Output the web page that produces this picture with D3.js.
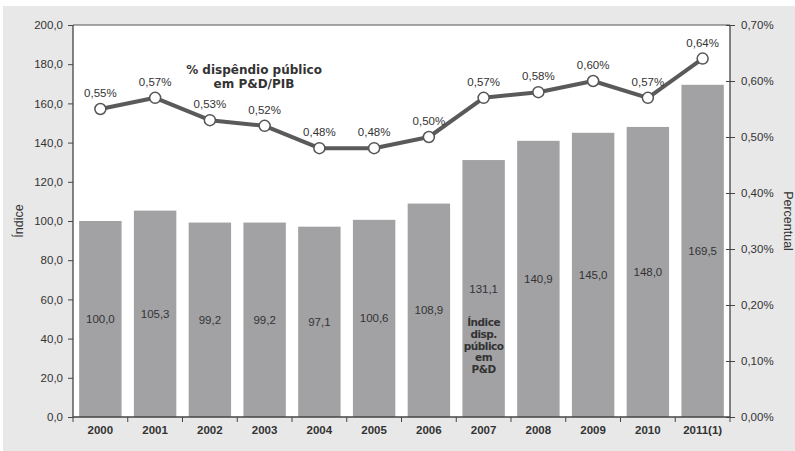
<!DOCTYPE html>
<html>
<head>
<meta charset="utf-8">
<script src="https://cdn.jsdelivr.net/npm/d3@7"></script>
<style>
  html, body { margin: 0; padding: 0; background: #fff; }
  svg { display: block; font-family: "Liberation Sans", Arial, sans-serif; }
  text { fill: #333; }
</style>
</head>
<body>
<svg id="chart" width="795" height="451"></svg>
<script>
// Public R&D spending index (bars) and share of GDP (line)
const years = ["2000", "2001", "2002", "2003", "2004", "2005", "2006", "2007", "2008", "2009", "2010", "2011(1)"];
const indexValues = [100.0, 105.3, 99.2, 99.2, 97.1, 100.6, 108.9, 131.1, 140.9, 145.0, 148.0, 169.5];
const shareValues = [0.55, 0.57, 0.53, 0.52, 0.48, 0.48, 0.50, 0.57, 0.58, 0.60, 0.57, 0.64];
const leftTicks = [0, 20, 40, 60, 80, 100, 120, 140, 160, 180, 200];
const rightTicks = [0, 0.1, 0.2, 0.3, 0.4, 0.5, 0.6, 0.7];

const svg = d3.select("#chart");
const plotLeft = 73, plotRight = 730, plotTop = 25, plotBottom = 417;
const sans = "Liberation Sans, Arial, sans-serif";
const heavy = "DejaVu Sans, Verdana, sans-serif";

const fmt1 = d => d3.format(".1f")(d).replace(".", ",");
const fmtPct = d => d3.format(".2f")(d).replace(".", ",") + "%";

// outer panel
svg.append("rect").attr("x", 3).attr("y", 6).attr("width", 792).attr("height", 445)
  .attr("fill", "#e8e8e8");
// plot area
svg.append("rect").attr("x", plotLeft).attr("y", plotTop)
  .attr("width", plotRight - plotLeft).attr("height", plotBottom - plotTop)
  .attr("fill", "#fff");

const x = d3.scaleBand().domain(years).range([plotLeft, plotRight]).paddingInner(0.225).paddingOuter(0.1125);
const yL = d3.scaleLinear().domain([0, 200]).range([plotBottom, plotTop]);
const yR = d3.scaleLinear().domain([0, 0.7]).range([plotBottom, plotTop]);

// bars
svg.append("g").selectAll("rect").data(indexValues).join("rect")
  .attr("x", (d, i) => x(years[i]))
  .attr("width", x.bandwidth())
  .attr("y", d => yL(d))
  .attr("height", d => yL(0) - yL(d))
  .attr("fill", "#a2a2a5");

// bar value labels at mid-height
svg.append("g").selectAll("text").data(indexValues).join("text")
  .attr("x", (d, i) => x(years[i]) + x.bandwidth() / 2)
  .attr("y", d => (yL(d) + yL(0)) / 2 + 4)
  .attr("text-anchor", "middle")
  .style("font-family", sans)
  .style("font-size", "11.5px")
  .text(d => fmt1(d));

// bar series annotation inside the 2007 bar
const barNote = ["Índice", "disp.", "público", "em", "P&D"];
svg.append("g").selectAll("text").data(barNote).join("text")
  .attr("x", x("2007") + x.bandwidth() / 2)
  .attr("y", (d, i) => 326 + i * 11.8)
  .attr("text-anchor", "middle")
  .style("font-family", heavy)
  .style("font-weight", "bold")
  .style("font-size", "10.5px")
  .style("letter-spacing", "-0.5px")
  .text(d => d);

// plot frame top line
svg.append("line").attr("x1", plotLeft).attr("x2", plotRight).attr("y1", plotTop).attr("y2", plotTop)
  .attr("stroke", "#555").attr("stroke-width", 1);

// left axis
const axL = svg.append("g").attr("transform", `translate(${plotLeft},0)`)
  .call(d3.axisLeft(yL).tickValues(leftTicks).tickFormat(fmt1).tickSize(5).tickPadding(5));
// right axis
const axR = svg.append("g").attr("transform", `translate(${plotRight},0)`)
  .call(d3.axisRight(yR).tickValues(rightTicks).tickFormat(fmtPct).tickSize(5).tickPadding(6));
axR.selectAll(".tick line").attr("x1", -4);
// bottom axis
const axB = svg.append("g").attr("transform", `translate(0,${plotBottom})`)
  .call(d3.axisBottom(x).tickSize(0).tickPadding(9));
// boundary ticks between categories
const bounds = d3.range(years.length + 1).map(i => plotLeft + i * (plotRight - plotLeft) / years.length);
axB.append("g").selectAll("line").data(bounds).join("line")
  .attr("x1", d => d).attr("x2", d => d).attr("y1", 0).attr("y2", 5)
  .attr("stroke", "#444");

[axL, axR, axB].forEach(a => {
  a.selectAll("path.domain").attr("stroke", "#444").attr("stroke-width", 1.3);
  a.selectAll(".tick line").attr("stroke", "#444");
  a.selectAll(".tick text").attr("fill", "#333")
    .style("font-size", "11.5px").style("font-family", sans);
});
axB.selectAll(".tick text").style("font-weight", "bold");
axL.select("path.domain").attr("d", `M0,${plotTop}V${plotBottom}`);
axR.select("path.domain").attr("d", `M0,${plotTop}V${plotBottom}`);
axB.select("path.domain").attr("d", `M${plotLeft},0H${plotRight}`);

// axis titles
svg.append("text").attr("transform", "translate(23,221) rotate(-90)")
  .attr("text-anchor", "middle").style("font-family", sans).style("font-size", "12.5px").text("Índice");
svg.append("text").attr("transform", "translate(784,221) rotate(90)")
  .attr("text-anchor", "middle").style("font-family", sans).style("font-size", "12.5px").text("Percentual");

// share-of-GDP line
const cx = (d, i) => x(years[i]) + x.bandwidth() / 2;
const line = d3.line().x((d, i) => cx(d, i)).y(d => yR(d));
svg.append("path").datum(shareValues).attr("d", line)
  .attr("fill", "none").attr("stroke", "#5a5a5a").attr("stroke-width", 4).attr("stroke-linejoin", "round");
svg.append("g").selectAll("circle").data(shareValues).join("circle")
  .attr("cx", cx).attr("cy", d => yR(d)).attr("r", 5.5)
  .attr("fill", "#fff").attr("stroke", "#555").attr("stroke-width", 1.5);
svg.append("g").selectAll("text").data(shareValues).join("text")
  .attr("x", cx).attr("y", d => yR(d) - 12)
  .attr("text-anchor", "middle")
  .style("font-family", sans).style("font-size", "11.5px")
  .text(d => fmtPct(d));

// line series annotation
const lineNote = ["% dispêndio público", "em P&D/PIB"];
svg.append("g").selectAll("text").data(lineNote).join("text")
  .attr("x", 254).attr("y", (d, i) => 74 + i * 13.5)
  .attr("text-anchor", "middle")
  .style("font-family", heavy)
  .style("font-weight", "bold").style("font-size", "12px")
  .text(d => d);
</script>
</body>
</html>
